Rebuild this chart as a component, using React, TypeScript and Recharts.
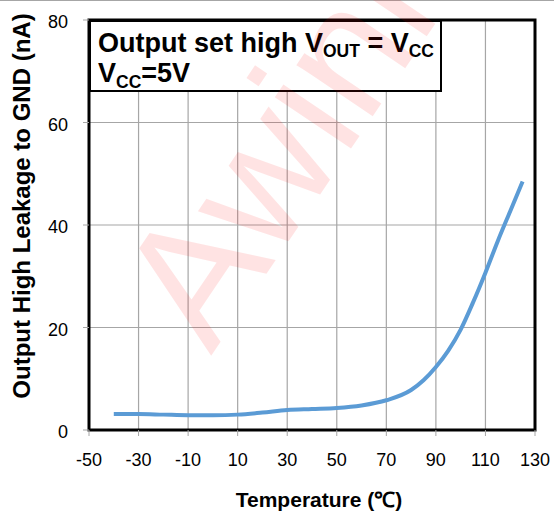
import { CartesianGrid, Line, LineChart, ReferenceArea, XAxis, YAxis } from "recharts";

// leakage current vs temperature
const temperature = [-40, -30, -20, -10, 0, 10, 20, 30, 40, 50, 60, 70, 80, 85, 90, 95, 100, 105, 110, 115, 120, 125];
const leakage = [3.1, 3.1, 3.0, 2.9, 2.9, 3.0, 3.4, 3.9, 4.1, 4.3, 4.8, 5.8, 7.8, 9.7, 12.3, 15.5, 19.6, 24.9, 30.7, 36.9, 42.7, 48.5];

const xTicks = [-50, -30, -10, 10, 30, 50, 70, 90, 110, 130];
const yTicks = [0, 20, 40, 60, 80];

const data = temperature.map((t, i) => ({ t, nA: leakage[i] }));

const FONT = "'Liberation Sans', Arial, sans-serif";
const GRID = "#a6a6a6";

export default function App() {
  return (
    <div style={{ position: "absolute", left: 0, top: 0, width: 554, height: 516, background: "#fff", fontFamily: FONT }}>
      <div style={{ position: "absolute", left: 0, top: 0, width: 554, height: 1, background: GRID }} />
      <LineChart
        width={554}
        height={516}
        data={data}
        margin={{ top: 20, right: 19, bottom: 0, left: 0 }}
        style={{ position: "absolute", left: 0, top: 0 }}
      >
        <CartesianGrid stroke={GRID} strokeWidth={1.2} verticalValues={xTicks} horizontalValues={yTicks} />
        <XAxis
          type="number"
          dataKey="t"
          domain={[-50, 130]}
          ticks={xTicks}
          height={86}
          axisLine={false}
          tickSize={6}
          tickMargin={17}
          tickLine={{ stroke: GRID }}
          tick={{ fill: "#000", fontSize: 18, fontFamily: FONT }}
          label={{
            value: "Temperature (℃)",
            position: "insideBottom",
            offset: 9,
            dx: 7,
            fill: "#000",
            fontSize: 21,
            fontWeight: "bold",
            fontFamily: FONT,
          }}
        />
        <YAxis
          type="number"
          domain={[0, 80]}
          ticks={yTicks}
          width={89}
          axisLine={false}
          tickSize={6}
          tickMargin={15}
          tickLine={{ stroke: GRID }}
          tick={{ fill: "#000", fontSize: 18, fontFamily: FONT, dy: 2 }}
          label={{
            content: () => (
              <text
                x={21}
                y={206}
                transform="rotate(-90 21 206)"
                textAnchor="middle"
                dominantBaseline="central"
                fill="#000"
                fontSize={24}
                fontWeight="bold"
                fontFamily={FONT}
              >
                Output High Leakage to GND (nA)
              </text>
            ),
          }}
        />
        <ReferenceArea x1={-50} x2={130} y1={0} y2={80} fill="none" stroke="#000" strokeWidth={3} ifOverflow="visible" />
        <Line
          type="monotone"
          dataKey="nA"
          stroke="#5b9bd5"
          strokeWidth={4}
          dot={false}
          isAnimationActive={false}
        />
      </LineChart>
      <svg
        width={554}
        height={516}
        style={{ position: "absolute", left: 0, top: 0, pointerEvents: "none" }}
      >
        <rect x={90} y={21} width={351} height={70} fill="#fff" stroke="#000" strokeWidth={2} />
        <text x={98} y={52} fontSize={27} fontWeight="bold" fontFamily={FONT} fill="#000">
          Output set high V
          <tspan fontSize={17.5} dy={5}>OUT</tspan>
          <tspan fontSize={27} dy={-5}> = V</tspan>
          <tspan fontSize={17.5} dy={5}>CC</tspan>
        </text>
        <text x={98} y={82} fontSize={27} fontWeight="bold" fontFamily={FONT} fill="#000">
          V
          <tspan fontSize={17.5} dy={6}>CC</tspan>
          <tspan fontSize={27} dy={-6}>=5V</tspan>
        </text>
        <text
          x={211}
          y={356}
          transform="rotate(-56 211 356)"
          fontSize={174}
          fontFamily={FONT}
          fill="#ff0000"
          fillOpacity={0.11}
        >
          Awinic
        </text>
      </svg>
    </div>
  );
}
